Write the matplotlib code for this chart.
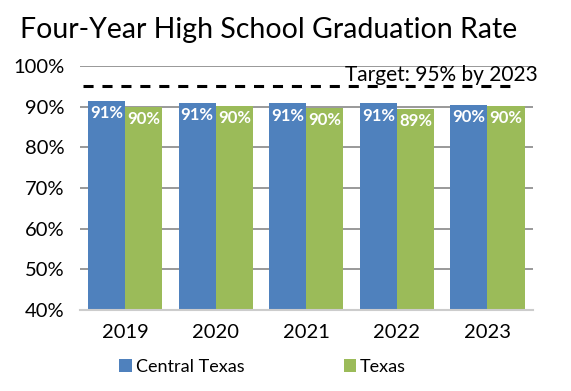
import numpy as np
import matplotlib.pyplot as plt

plt.rcParams['font.family'] = ['Lato', 'DejaVu Sans']

years = ['2019', '2020', '2021', '2022', '2023']
central = [91.4, 91.0, 90.8, 90.8, 90.4]
texas = [89.9, 90.2, 89.7, 89.4, 90.1]
central_lbl = ['91%', '91%', '91%', '91%', '90%']
texas_lbl = ['90%', '90%', '90%', '89%', '90%']
target = 95

blue = '#4F81BD'
green = '#9BBB59'

fig = plt.figure(figsize=(5.71, 3.91), dpi=100)
ax = fig.add_axes([0.14, 0.207, 0.793, 0.624])

x = np.arange(len(years))
w = 0.41
ax.bar(x - w/2, central, w, color=blue, label='Central Texas', zorder=2)
ax.bar(x + w/2, texas, w, color=green, label='Texas', zorder=2)

for i in range(len(years)):
    ax.text(x[i] - w/2, central[i] - 1.0, central_lbl[i], ha='center', va='top',
            color='white', fontsize=12, fontweight='bold', zorder=3)
    ax.text(x[i] + w/2, texas[i] - 1.0, texas_lbl[i], ha='center', va='top',
            color='white', fontsize=12, fontweight='bold', zorder=3)

ax.plot([-0.47, 4.28], [target, target], color='black', lw=2.2,
        dashes=(3.3, 2.9), zorder=3, clip_on=False)
ax.text(4.56, target + 0.3, 'Target: 95% by 2023', ha='right', va='bottom',
        fontsize=15, zorder=4)

ax.set_ylim(40, 100)
ax.set_xlim(-0.5, 4.5)
ax.set_yticks(np.arange(40, 101, 10))
ax.set_yticklabels([f'{v}%' for v in range(40, 101, 10)])
ax.set_xticks(x)
ax.set_xticklabels(years)
ax.yaxis.grid(True, color='#888888', lw=1.2, zorder=0)
ax.tick_params(axis='both', length=0, labelsize=14.5, pad=10)
ax.tick_params(axis='y', pad=11)
for s in ['top', 'right', 'left']:
    ax.spines[s].set_visible(False)
ax.spines['bottom'].set_color('#cccccc')
ax.spines['bottom'].set_linewidth(1.5)

fig.text(0.47, 0.923, 'Four-Year High School Graduation Rate', ha='center',
         va='center', fontsize=20.5)

fig.legend(loc='lower center', ncol=2, bbox_to_anchor=(0.46, 0.0),
           frameon=False, fontsize=13, handlelength=0.7, handleheight=0.7,
           handletextpad=0.2, columnspacing=5.5)

fig.savefig('out.png', dpi=100)
